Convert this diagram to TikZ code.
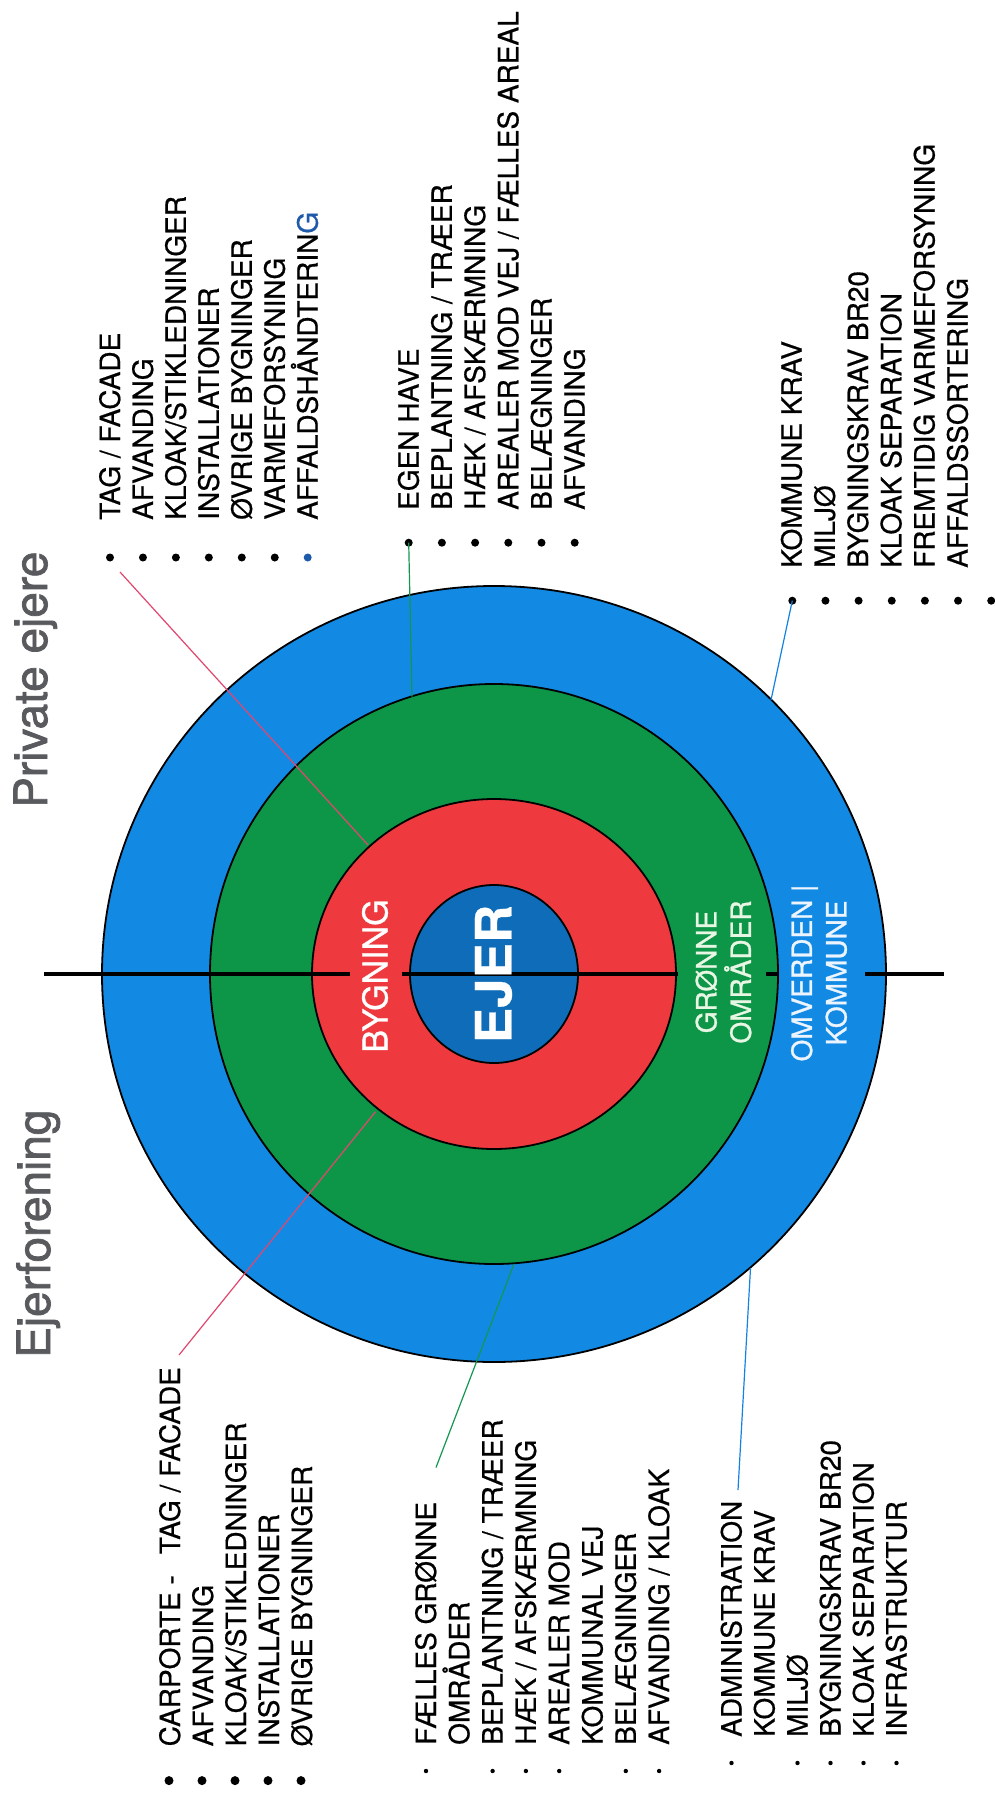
\documentclass[tikz,border=0pt]{standalone}
\usepackage{fontspec}
\setmainfont{TeX Gyre Heros}[FakeBold=0.6]
\newfontfamily\titlefont{TeX Gyre Heros}[FakeBold=1.6]
\newfontfamily\labelfont{TeX Gyre Heros}[FakeBold=1.0]
\definecolor{ringBlue}{RGB}{18,138,228}
\definecolor{ringGreen}{RGB}{14,150,72}
\definecolor{ringRed}{RGB}{238,58,62}
\definecolor{coreBlue}{RGB}{14,108,185}
\definecolor{redLink}{RGB}{225,70,110}
\definecolor{greenLink}{RGB}{20,150,80}
\definecolor{blueLink}{RGB}{20,130,225}
\definecolor{titleGray}{RGB}{88,90,94}
\definecolor{accentBlue}{RGB}{30,90,170}
\definecolor{paleGreen}{RGB}{232,246,228}
\definecolor{paleBlue}{RGB}{236,245,255}
\begin{document}
\begin{tikzpicture}[x=1pt, y=-1pt,
  ring/.style={draw=black, line width=1.8pt},
  listtext/.style={rotate=90, anchor=base west, inner sep=0pt,
    font=\fontsize{28}{33}\selectfont, text=black},
  bigdot/.style={circle, fill=black, inner sep=0pt, minimum size=8pt},
  smalldot/.style={circle, fill=black, inner sep=0pt, minimum size=4.4pt},
  ringlabel/.style={rotate=90, inner sep=0pt, align=center},
  title/.style={rotate=90, anchor=base west, inner sep=0pt,
    font=\titlefont\fontsize{46}{46}\selectfont, text=titleGray},
  link/.style={line width=1.2pt},
  axisline/.style={line width=3.4pt, black}
]
\useasboundingbox (0,0) rectangle (994,1795);
\fill[white] (0,0) rectangle (994,1795);

% concentric rings
\path[ring, fill=ringBlue]  (494,974) ellipse [x radius=392pt, y radius=388pt];
\path[ring, fill=ringGreen] (494,974) ellipse [x radius=284pt, y radius=290pt];
\path[ring, fill=ringRed]   (494,974) ellipse [x radius=182pt, y radius=175pt];
\path[ring, fill=coreBlue]  (494,974) ellipse [x radius=84pt,  y radius=89pt];

% titles
\node[title] (privat) at (47,808) {Private ejere};
\node[title] (forening) at (50,1358) {Ejerforening};

% list: private owners, building
\foreach \txt [count=\i from 0] in {TAG / FACADE, AFVANDING, KLOAK/STIKLEDNINGER,
    INSTALLATIONER, ØVRIGE BYGNINGER, VARMEFORSYNING,
    AFFALDSHÅNDTERIN{\color{accentBlue}G}}
  \node[listtext] (tl-\i) at ({120+32.95*\i},520) {\txt};
\foreach \i in {0,...,5}
  \node[bigdot] (tl-b\i) at ({110+32.95*\i},557.5) {};
\node[bigdot, fill=accentBlue] (tl-b6) at (307.7,557.5) {};

% list: private owners, garden
\foreach \txt [count=\i from 0] in {EGEN HAVE, BEPLANTNING / TRÆER, HÆK / AFSKÆRMNING,
    AREALER MOD VEJ / FÆLLES AREAL, BELÆGNINGER, AFVANDING}
  \node[listtext] (tm-\i) at ({418.7+33.2*\i},510) {\txt};
\foreach \i in {0,...,5}
  \node[bigdot] (tm-b\i) at ({408.7+33.2*\i},542.7) {};

% list: private owners, surroundings
\foreach \txt [count=\i from 0] in {KOMMUNE KRAV, MILJØ, BYGNINGSKRAV BR20,
    KLOAK SEPARATION, FREMTIDIG VARMEFORSYNING, AFFALDSSORTERING}
  \node[listtext] (tr-\i) at ({801.7+33.2*\i},568) {\txt};
\foreach \i in {0,...,6}
  \node[bigdot] (tr-b\i) at ({792.3+33.15*\i},600.7) {};

% list: association, building
\foreach \txt [count=\i from 0] in {CARPORTE -\hspace{0.75em}TAG / FACADE, AFVANDING,
    KLOAK/STIKLEDNINGER, INSTALLATIONER, ØVRIGE BYGNINGER}
  \node[listtext] (bl-\i) at ({180+33*\i},1746.5) {\txt};
\foreach \i in {0,...,4}
  \node[bigdot, minimum size=9pt] (bl-b\i) at ({169+33*\i},1780.6) {};

% list: association, green areas
\foreach \txt [count=\i from 0] in {FÆLLES GRØNNE, OMRÅDER, BEPLANTNING / TRÆER,
    HÆK / AFSKÆRMNING, AREALER MOD, KOMMUNAL VEJ, BELÆGNINGER, AFVANDING / KLOAK}
  \node[listtext] (bm-\i) at ({436+33.3*\i},1745) {\txt};
\foreach \i in {0,2,3,4,6,7}
  \node[smalldot] (bm-b\i) at ({426+33.3*\i},1771) {};

% list: association, surroundings
\foreach \txt [count=\i from 0] in {ADMINISTRATION, KOMMUNE KRAV, MILJØ,
    BYGNINGSKRAV BR20, KLOAK SEPARATION, INFRASTRUKTUR}
  \node[listtext] (br-\i) at ({741.5+33*\i},1737) {\txt};
\foreach \i in {0,2,3,4,5}
  \node[smalldot] (br-b\i) at ({731.5+33*\i},1763) {};

% leader lines from the lists to the rings
\coordinate (rdA) at (120,572);
\coordinate (rdB) at (368,845);
\coordinate (rdC) at (375.5,1111.7);
\coordinate (rdD) at (179,1355);
\coordinate (gnB) at (412,696.7);
\coordinate (gnC) at (514,1264);
\coordinate (gnD) at (436,1467.5);
\coordinate (blB) at (771,700);
\coordinate (blC) at (750.5,1268);
\coordinate (blD) at (738,1490);
\draw[link, redLink] (rdA) -- (rdB);
\draw[link, redLink] (rdC) -- (rdD);
\draw[link, greenLink] (tm-b0.center) -- (gnB);
\draw[link, greenLink] (gnC) -- (gnD);
\draw[link, blueLink] (tr-b0.center) -- (blB);
\draw[link, blueLink] (blC) -- (blD);

% dividing axis, broken around the ring labels
\coordinate (axL) at (44,974);
\coordinate (axA) at (350,974);
\coordinate (axB) at (402,974);
\coordinate (axC) at (678,974);
\coordinate (axD) at (766,974);
\coordinate (axE) at (777,974);
\coordinate (axF) at (865,974);
\coordinate (axR) at (944,974);
\draw[axisline] (axL) -- (axA) (axB) -- (axC) (axD) -- (axE) (axF) -- (axR);

% ring labels
\node[ringlabel, text=white] (ejer) at (493.5,974)
  {\scalebox{1.06}[1]{\fontsize{50}{50}\selectfont\bfseries EJER}};
\node[ringlabel, text=white] (bygning) at (375,976)
  {\labelfont\fontsize{34}{34}\selectfont BYGNING};
\node[ringlabel, text=paleGreen, font=\labelfont\fontsize{28}{34.5}\selectfont] (groenne) at (723.5,972)
  {GRØNNE\\OMRÅDER};
\node[ringlabel, text=paleBlue, font=\labelfont\fontsize{28}{34.5}\selectfont] (omverden) at (819,973)
  {OMVERDEN |\\KOMMUNE};
\end{tikzpicture}
\end{document}
